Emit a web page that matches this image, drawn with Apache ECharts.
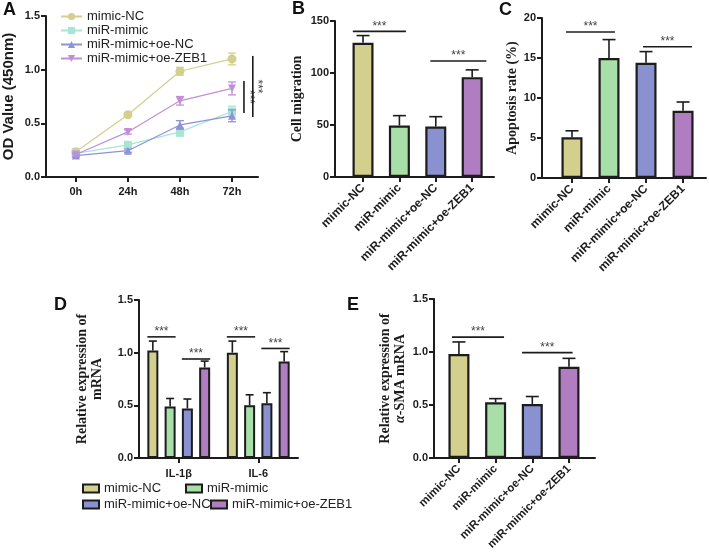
<!DOCTYPE html>
<html><head><meta charset="utf-8">
<script src="https://cdn.jsdelivr.net/npm/echarts@6/dist/echarts.min.js"></script>
<style>html,body{margin:0;padding:0;background:#fff}#c{width:709px;height:558px}</style>
</head><body><div id="c"></div>
<script>
// ---------- data ----------
const groups = ['mimic-NC', 'miR-mimic', 'miR-mimic+oe-NC', 'miR-mimic+oe-ZEB1'];
const timePoints = ['0h', '24h', '48h', '72h'];

const odMimicNC = [0.235, 0.58, 0.985, 1.10];
const odMimicNCErr = [0.025, 0.015, 0.036, 0.055];
const odMiRMimic = [0.22, 0.30, 0.42, 0.61];
const odMiRMimicErr = [0.015, 0.02, 0.04, 0.05];
const odOeNC = [0.20, 0.245, 0.485, 0.57];
const odOeNCErr = [0.015, 0.015, 0.04, 0.055];
const odOeZEB1 = [0.21, 0.42, 0.71, 0.825];
const odOeZEB1Err = [0.015, 0.02, 0.04, 0.06];
const sigA = [[3.23, 0.596, 0.895], [3.40, 0.559, 1.128]];

const migration = [129, 49.5, 48.5, 96];
const migrationErr = [7, 9.5, 9.5, 7];
const sigB = [[-0.28, 1.18, 140], [1.85, 3.39, 111.5]];

const apoptosis = [5.1, 15.0, 14.4, 8.4];
const apoptosisErr = [0.8, 2.3, 1.4, 1.1];
const sigC = [[-0.16, 1.16, 18.25], [1.92, 3.24, 16.4]];

const genes = ['IL-1β', 'IL-6'];
const il1b = [1.02, 0.49, 0.47, 0.86];
const il1bErr = [0.09, 0.075, 0.09, 0.06];
const il6 = [1.0, 0.50, 0.52, 0.915];
const il6Err = [0.11, 0.10, 0.10, 0.095];
const sigD = [[0, 0, 1, 1.15], [0, 2, 3, 0.94], [1, 0, 1, 1.15], [1, 2, 3, 1.04]];

const sma = [0.98, 0.525, 0.51, 0.86];
const smaErr = [0.115, 0.035, 0.07, 0.08];
const sigE = [[-0.19, 1.23, 1.14], [1.72, 3.1, 0.994]];

// ---------- style ----------
const F = 'Arial, "Liberation Sans", sans-serif';
const S = '"Times New Roman", "Liberation Serif", serif';
const ink = '#1c1c1c';
const lineColors = ['#d3cf8c', '#a6e6d2', '#8e92da', '#c28fd6'];
const barColors = ['#d3cf8d', '#a8dfa8', '#8a91d1', '#b17dc1'];
const symbols = ['circle', 'rect', 'triangle', 'triangle'];
const symbolRot = [0, 0, 0, 180];
const odMeans = [odMimicNC, odMiRMimic, odOeNC, odOeZEB1];
const odErrs = [odMimicNCErr, odMiRMimicErr, odOeNCErr, odOeZEB1Err];
const idx = [0, 1, 2, 3];

const grids = [
  {left: 45, top: 16, width: 213, height: 161},
  {left: 335, top: 21, width: 159, height: 156},
  {left: 542, top: 18, width: 164, height: 160},
  {left: 139, top: 300, width: 159, height: 158},
  {left: 434, top: 299, width: 161, height: 159}
];

function yAx(gi, max, interval, digits, name, gap, nameStyle) {
  return {
    type: 'value', gridIndex: gi, min: 0, max: max, interval: interval,
    name: name, nameLocation: 'middle', nameGap: gap, nameTextStyle: nameStyle,
    axisLine: {show: true, onZero: false, lineStyle: {color: ink, width: 2}},
    axisTick: {show: true, length: 5, lineStyle: {color: ink, width: 2}},
    axisLabel: {color: ink, fontFamily: F, fontWeight: 'bold', fontSize: 11, margin: 6,
      formatter: v => v.toFixed(digits)},
    splitLine: {show: false}
  };
}
function xVal(gi, min, max, labels, rotate, fs) {
  return {
    type: 'value', gridIndex: gi, min: min, max: max,
    axisLine: {show: true, onZero: false, lineStyle: {color: ink, width: 2}},
    axisTick: {show: true, length: 5, customValues: idx, lineStyle: {color: ink, width: 2}},
    axisLabel: {customValues: idx, formatter: v => labels[Math.round(v)], rotate: rotate,
      color: ink, fontFamily: F, fontWeight: 'bold', fontSize: fs, margin: 9},
    splitLine: {show: false}
  };
}
const serifName = {fontFamily: S, fontWeight: 'bold', fontSize: 14, color: ink, lineHeight: 15};

// ---------- custom renderers ----------
function barErr(cw) {
  return function (params, api) {
    const x = api.value(0), m = api.value(1), e = api.value(2);
    const p0 = api.coord([x, m]), p1 = api.coord([x, m + e]);
    const st = {stroke: ink, lineWidth: 1.6};
    return {type: 'group', children: [
      {type: 'line', shape: {x1: p0[0], y1: p0[1], x2: p1[0], y2: p1[1]}, style: st},
      {type: 'line', shape: {x1: p1[0] - cw, y1: p1[1], x2: p1[0] + cw, y2: p1[1]}, style: st}
    ]};
  };
}
function lineErr(color) {
  return function (params, api) {
    const x = api.value(0), m = api.value(1), e = api.value(2);
    const lo = api.coord([x, m - e]), hi = api.coord([x, m + e]);
    const st = {stroke: color, lineWidth: 1.3};
    const cw = 4;
    return {type: 'group', children: [
      {type: 'line', shape: {x1: lo[0], y1: lo[1], x2: hi[0], y2: hi[1]}, style: st},
      {type: 'line', shape: {x1: hi[0] - cw, y1: hi[1], x2: hi[0] + cw, y2: hi[1]}, style: st},
      {type: 'line', shape: {x1: lo[0] - cw, y1: lo[1], x2: lo[0] + cw, y2: lo[1]}, style: st}
    ]};
  };
}
const starStyle = {text: '***', fontSize: 12, fontFamily: F, fill: '#444', align: 'center', verticalAlign: 'bottom'};
function sigH(params, api) {
  const p1 = api.coord([api.value(0), api.value(2)]), p2 = api.coord([api.value(1), api.value(2)]);
  return {type: 'group', children: [
    {type: 'line', shape: {x1: p1[0], y1: p1[1], x2: p2[0], y2: p2[1]}, style: {stroke: ink, lineWidth: 1.6}},
    {type: 'text', x: (p1[0] + p2[0]) / 2, y: p1[1] + 1, style: starStyle}
  ]};
}
function sigV(params, api) {
  const p1 = api.coord([api.value(0), api.value(1)]), p2 = api.coord([api.value(0), api.value(2)]);
  return {type: 'group', children: [
    {type: 'line', shape: {x1: p1[0], y1: p1[1], x2: p2[0], y2: p2[1]}, style: {stroke: ink, lineWidth: 1.6}},
    {type: 'text', x: p1[0] - 1, y: (p1[1] + p2[1]) / 2, rotation: -Math.PI / 2,
      style: Object.assign({}, starStyle, {verticalAlign: 'bottom'})}
  ]};
}
const dBarW = 11, dStep = 11 * 1.57;
function dErr(params, api) {
  const g = api.value(0), k = api.value(1), m = api.value(2), e = api.value(3);
  const off = (k - 1.5) * dStep;
  const p0 = api.coord([g, m]), p1 = api.coord([g, m + e]);
  const x = p0[0] + off, cw = 4;
  const st = {stroke: ink, lineWidth: 1.6};
  return {type: 'group', children: [
    {type: 'line', shape: {x1: x, y1: p0[1], x2: x, y2: p1[1]}, style: st},
    {type: 'line', shape: {x1: x - cw, y1: p1[1], x2: x + cw, y2: p1[1]}, style: st}
  ]};
}
function dSig(params, api) {
  const g = api.value(0), a = api.value(1), b = api.value(2), y = api.value(3);
  const c = api.coord([g, y]);
  const x1 = c[0] + (a - 1.5) * dStep - dBarW / 2, x2 = c[0] + (b - 1.5) * dStep + dBarW / 2;
  return {type: 'group', children: [
    {type: 'line', shape: {x1: x1, y1: c[1], x2: x2, y2: c[1]}, style: {stroke: ink, lineWidth: 1.6}},
    {type: 'text', x: (x1 + x2) / 2, y: c[1] + 1, style: starStyle}
  ]};
}

// ---------- series ----------
const series = [];
// A
idx.forEach(k => {
  series.push({
    name: 'A|' + groups[k], type: 'line', xAxisIndex: 0, yAxisIndex: 0,
    data: odMeans[k].map((v, i) => [i, v]),
    symbol: symbols[k], symbolRotate: symbolRot[k], symbolSize: k === 0 ? 9 : 8,
    itemStyle: {color: lineColors[k]}, lineStyle: {color: lineColors[k], width: 1.2},
    z: 3 + k
  });
  series.push({
    type: 'custom', xAxisIndex: 0, yAxisIndex: 0, silent: true, z: 3 + k,
    data: odMeans[k].map((v, i) => [i, v, odErrs[k][i]]),
    renderItem: lineErr(lineColors[k])
  });
});
series.push({type: 'custom', xAxisIndex: 0, yAxisIndex: 0, silent: true, data: sigA, renderItem: sigV});

function barPanel(gi, means, errs, sig) {
  series.push({
    type: 'bar', xAxisIndex: gi, yAxisIndex: gi, barWidth: 21,
    data: means.map((v, i) => ({value: [i, v], itemStyle: {color: barColors[i]}})),
    itemStyle: {borderColor: ink, borderWidth: 2.2}
  });
  series.push({type: 'custom', xAxisIndex: gi, yAxisIndex: gi, silent: true, z: 5,
    data: means.map((v, i) => [i, v, errs[i]]), renderItem: barErr(6.5)});
  series.push({type: 'custom', xAxisIndex: gi, yAxisIndex: gi, silent: true, z: 5,
    data: sig, renderItem: sigH});
}
barPanel(1, migration, migrationErr, sigB);
barPanel(2, apoptosis, apoptosisErr, sigC);
barPanel(4, sma, smaErr, sigE);

// D
idx.forEach(k => {
  series.push({
    name: 'D|' + groups[k], type: 'bar', xAxisIndex: 3, yAxisIndex: 3,
    barWidth: dBarW, barGap: '57%',
    data: [il1b[k], il6[k]],
    itemStyle: {color: barColors[k], borderColor: ink, borderWidth: 2}
  });
});
const dErrData = [];
idx.forEach(k => { dErrData.push([0, k, il1b[k], il1bErr[k]]); dErrData.push([1, k, il6[k], il6Err[k]]); });
series.push({type: 'custom', xAxisIndex: 3, yAxisIndex: 3, silent: true, z: 5, data: dErrData, renderItem: dErr});
series.push({type: 'custom', xAxisIndex: 3, yAxisIndex: 3, silent: true, z: 5, data: sigD, renderItem: dSig});

// ---------- legends ----------
const strip = n => n.split('|')[1];
const legendText = {fontSize: 13, fontFamily: F, color: '#222'};
const legends = [
  {orient: 'vertical', left: 55, top: 5, itemWidth: 21, itemHeight: 9, itemGap: 1,
    data: groups.map(g => 'A|' + g), formatter: strip, textStyle: legendText, selectedMode: false}
];
const dLegPos = [[77, 477], [180, 477], [77, 493], [205, 493]];
idx.forEach(k => {
  legends.push({left: dLegPos[k][0], top: dLegPos[k][1], itemWidth: 16, itemHeight: 8,
    icon: 'rect', data: ['D|' + groups[k]], formatter: strip, textStyle: legendText, selectedMode: false,
    itemStyle: {borderColor: ink, borderWidth: 2}});
});

// ---------- option ----------
const letters = [['A', 3, 1], ['B', 292, 0], ['C', 499, 1], ['D', 54, 296], ['E', 347, 296]];
const option = {
  animation: false,
  backgroundColor: '#fff',
  grid: grids,
  xAxis: [
    xVal(0, -0.574, 3.5, timePoints, 0, 11),
    xVal(1, -0.77, 3.6, groups, 45, 12),
    xVal(2, -0.81, 3.62, groups, 45, 12),
    {type: 'category', gridIndex: 3, data: genes, boundaryGap: true,
      axisLine: {show: true, onZero: false, lineStyle: {color: ink, width: 2}},
      axisTick: {show: true, alignWithLabel: true, length: 5, lineStyle: {color: ink, width: 2}},
      axisLabel: {color: ink, fontFamily: F, fontWeight: 'bold', fontSize: 11, margin: 10}},
    xVal(4, -0.68, 3.71, groups, 45, 11.5)
  ],
  yAxis: [
    yAx(0, 1.5, 0.5, 1, 'OD Value (450nm)', 30, {fontFamily: F, fontWeight: 'bold', fontSize: 15, color: ink}),
    yAx(1, 150, 50, 0, 'Cell migration', 30, serifName),
    yAx(2, 20, 5, 0, 'Apoptosis rate (%)', 20, serifName),
    yAx(3, 1.5, 0.5, 1, 'Relative expression of\nmRNA', 34, serifName),
    yAx(4, 1.5, 0.5, 1, '{a|Relative expression of}\n{b|α}{a|-SMA mRNA}', 26,
      {rich: {a: serifName, b: Object.assign({}, serifName, {fontStyle: 'italic'})}})
  ],
  legend: legends,
  series: series,
  graphic: letters.map(l => ({type: 'text', left: l[1], top: l[2],
    style: {text: l[0], fontFamily: F, fontWeight: 'bold', fontSize: 18, fill: '#111'}}))
};
const chart = echarts.init(document.getElementById('c'), null, {renderer: 'canvas'});
chart.setOption(option);
</script></body></html>
